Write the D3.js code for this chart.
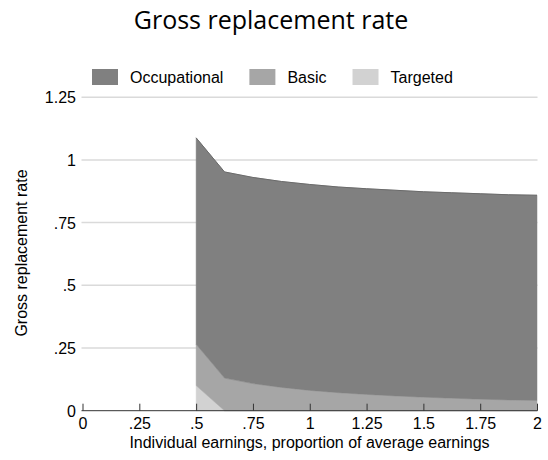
<!DOCTYPE html>
<html><head><meta charset="utf-8">
<script src="https://cdn.jsdelivr.net/npm/d3@7"></script>
<style>body{margin:0;background:#fff}svg{display:block}</style>
</head><body>
<script>
const earnings = [0.5, 0.625, 0.75, 0.875, 1, 1.125, 1.25, 1.375, 1.5, 1.625, 1.75, 1.875, 2];
const targeted = [0.10, 0, 0, 0, 0, 0, 0, 0, 0, 0, 0, 0, 0];
const basic = [0.165, 0.13, 0.108, 0.093, 0.081, 0.072, 0.065, 0.059, 0.054, 0.050, 0.046, 0.043, 0.041];
const occupational = [0.823, 0.822, 0.822, 0.821, 0.821, 0.820, 0.820, 0.820, 0.819, 0.819, 0.819, 0.818, 0.818];
const seriesNames = ["Occupational", "Basic", "Targeted"];
const xTicks = [0, 0.25, 0.5, 0.75, 1, 1.25, 1.5, 1.75, 2];
const xTickLabels = ["0", ".25", ".5", ".75", "1", "1.25", "1.5", "1.75", "2"];
const yTicks = [0, 0.25, 0.5, 0.75, 1, 1.25];
const yTickLabels = ["0", ".25", ".5", ".75", "1", "1.25"];

const W = 548, H = 460;
const FONT = "Liberation Sans, Arial, sans-serif";
const svg = d3.select("body").append("svg").attr("width", W).attr("height", H);
const x = d3.scaleLinear().domain([0, 2]).range([82.5, 537]);
const y = d3.scaleLinear().domain([0, 1.25]).range([410.7, 97.2]);
const colors = {Occupational: "#808080", Basic: "#a6a6a6", Targeted: "#d2d2d2"};

// gridlines
svg.append("g").selectAll("line").data(yTicks.filter(d => d > 0)).join("line")
  .attr("x1", 81.5).attr("x2", 537.5).attr("y1", d => y(d)).attr("y2", d => y(d))
  .attr("stroke", "#dadada").attr("stroke-width", 1.5);

// stacked areas
const rows = earnings.map((e, i) => ({x: e, Targeted: targeted[i], Basic: basic[i], Occupational: occupational[i]}));
const stack = d3.stack().keys(["Targeted", "Basic", "Occupational"]);
const layers = stack(rows);
const area = d3.area().x(d => x(d.data.x)).y0(d => y(d[0])).y1(d => y(d[1]));
svg.append("g").selectAll("path").data(layers).join("path")
  .attr("d", area).attr("fill", d => colors[d.key])
  .attr("stroke", d => colors[d.key]).attr("stroke-width", 0.5);
const topLine = d3.line().x(d => x(d.data.x)).y(d => y(d[1]));
svg.append("path").attr("d", topLine(layers[2])).attr("fill", "none").attr("stroke", "#6a6a6a").attr("stroke-width", 1);

// x axis
const xAxis = d3.axisBottom(x).tickValues(xTicks).tickFormat((d, i) => xTickLabels[i]).tickSize(-7).tickPadding(7);
const gx = svg.append("g").attr("transform", `translate(0,${y(0)})`).call(xAxis);
gx.select(".domain").attr("stroke", "#333").attr("d", `M${x(0)-1},0H${x(2)+0.5}`);
gx.selectAll(".tick line").attr("stroke", "#333");
gx.selectAll("text").attr("font-family", FONT).attr("font-size", 16).attr("fill", "#000");

// y axis labels
const yAxis = d3.axisLeft(y).tickValues(yTicks).tickFormat((d, i) => yTickLabels[i]).tickSize(0).tickPadding(6.5);
const gy = svg.append("g").attr("transform", `translate(${x(0)},0)`).call(yAxis);
gy.select(".domain").remove();
gy.selectAll("text").attr("font-family", FONT).attr("font-size", 16).attr("fill", "#000").attr("dy", "0.34em");

// title
svg.append("text").attr("x", 271).attr("y", 29).attr("text-anchor", "middle")
  .attr("font-family", "Open Sans, sans-serif").attr("font-size", 25).attr("fill", "#000")
  .text("Gross replacement rate");

// axis titles
svg.append("text").attr("x", 309.5).attr("y", 447.5).attr("text-anchor", "middle")
  .attr("font-family", FONT).attr("font-size", 16).text("Individual earnings, proportion of average earnings");
svg.append("text").attr("transform", `translate(26.5,253) rotate(-90)`).attr("text-anchor", "middle")
  .attr("font-family", FONT).attr("font-size", 16).text("Gross replacement rate");

// legend
const lg = svg.append("g");
let lx = 92;
seriesNames.forEach(name => {
  const g = lg.append("g").attr("transform", `translate(${lx},69)`);
  g.append("rect").attr("width", 26).attr("height", 16).attr("fill", colors[name]);
  const t = g.append("text").attr("x", 38).attr("y", 13.5).attr("font-family", FONT).attr("font-size", 16).text(name);
  lx += 38 + t.node().getComputedTextLength() + 26;
});
</script>
</body></html>
